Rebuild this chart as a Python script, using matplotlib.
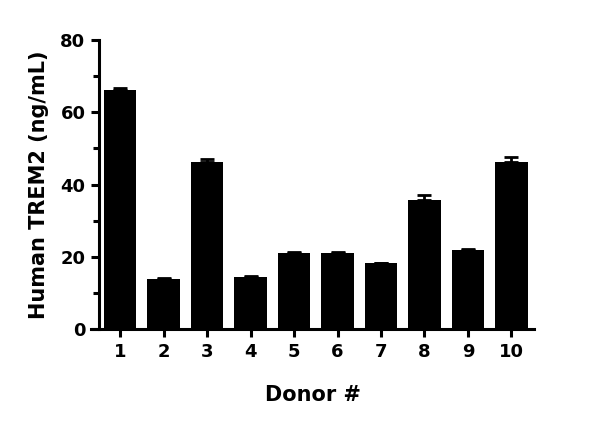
import matplotlib.pyplot as plt
from matplotlib.ticker import MultipleLocator

donors = [1, 2, 3, 4, 5, 6, 7, 8, 9, 10]
trem2 = [66.3, 13.8, 46.2, 14.5, 21.1, 21.1, 18.2, 35.7, 21.9, 46.1]
sem = [0.4, 0.2, 0.9, 0.2, 0.2, 0.2, 0.1, 1.3, 0.3, 1.4]

plt.rcParams['font.family'] = ['DejaVu Sans']
plt.rcParams['font.weight'] = 'bold'

fig = plt.figure(figsize=(6, 4.28), dpi=100)
ax = fig.add_axes([0.1517, 0.2313, 0.7383, 0.6752])

ax.bar(donors, trem2, width=0.75, color='black', zorder=2)
ax.errorbar(donors, trem2, yerr=[[0] * len(sem), sem], fmt='none',
            ecolor='black', elinewidth=2, capsize=5, capthick=2, zorder=3)

ax.set_xlim(0.33, 10.52)
ax.set_ylim(0, 80)
ax.spines['left'].set_position(('data', 0.52))
for s in ['top', 'right']:
    ax.spines[s].set_visible(False)
for s in ['left', 'bottom']:
    ax.spines[s].set_linewidth(2.2)

ax.set_xticks(donors)
ax.set_yticks([0, 20, 40, 60, 80])
ax.yaxis.set_minor_locator(MultipleLocator(10))
ax.tick_params(axis='both', which='major', width=2.2, length=6, labelsize=13, pad=4)
ax.tick_params(axis='y', which='minor', width=2.2, length=4)
ax.tick_params(axis='x', which='minor', bottom=False)

ax.set_xlabel('Donor #', fontsize=15, fontweight='bold', labelpad=17)
ax.set_ylabel('Human TREM2 (ng/mL)', fontsize=15, fontweight='bold', labelpad=8)

fig.savefig('out.png', dpi=100)
